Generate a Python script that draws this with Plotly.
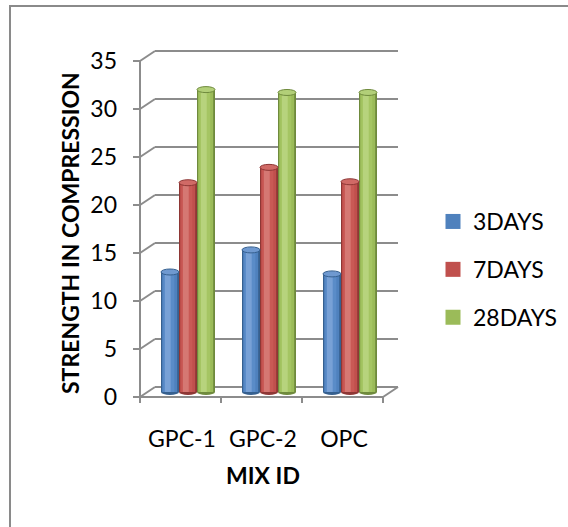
import plotly.graph_objects as go

# ---------------- data ----------------
categories = ["GPC-1", "GPC-2", "OPC"]
series_names = ["3DAYS", "7DAYS", "28DAYS"]
days3 = [12.5, 14.8, 12.3]
days7 = [21.8, 23.4, 21.9]
days28 = [31.5, 31.2, 31.2]
y_ticks = [0, 5, 10, 15, 20, 25, 30, 35]
y_title = "STRENGTH IN COMPRESSION"
x_title = "MIX ID"

series_values = [days3, days7, days28]

# ---------------- styles ----------------
base_colors = ["#4F81BD", "#C0504D", "#9BBB59"]
dark_colors = ["#36608F", "#8E3735", "#6F8A3D"]
mid_colors = ["#5A8CC8", "#C95955", "#A5C563"]
light_colors = ["#78A1D6", "#D57873", "#B7D37D"]
cap_colors = ["#6F99D0", "#D06A66", "#B2CF78"]
grid_color = "#8C8C8C"
FONT = "Lato"

# canvas / plot-area geometry (pixels)
W, H = 568, 527
L, R, T, B = 120, 420, 30, 420
PXU, X0PX = 81.0, 188.0      # pixels per category, pixel of category 0 (mid depth)
PYU, Y0PX = 9.6, 392.0       # pixels per unit, pixel of value 0 (mid depth)
DX = 7.5 / PXU               # half depth offset in x (data units)
DY = 5.0 / PYU               # half depth offset in y (data units)
BW = 18.0 / PXU              # bar width (data units)

x_range = [(L - X0PX) / PXU, (R - X0PX) / PXU]
y_range = [-(B - Y0PX) / PYU, (Y0PX - T) / PYU]


def pxx(px):
    return (px - L) / (R - L)


def pxy(py):
    return (B - py) / (B - T)


xs = list(range(len(categories)))
fig = go.Figure()

# cylinder shading layers: (start fraction, end fraction, palette)
layers = [
    (0.00, 1.00, dark_colors),
    (0.06, 0.90, base_colors),
    (0.13, 0.74, mid_colors),
    (0.22, 0.54, light_colors),
]

for s, (name, vals) in enumerate(zip(series_names, series_values)):
    left = -1.5 * BW + s * BW
    for f0, f1, pal in layers:
        fig.add_trace(go.Bar(
            x=xs, y=vals,
            width=BW * (f1 - f0),
            offset=left + BW * f0,
            marker=dict(color=pal[s], line=dict(width=0)),
            name=name, legendgroup=name, showlegend=False,
            hoverinfo="skip",
        ))
    # legend entry (square swatch) for the series
    fig.add_trace(go.Scatter(
        x=[None], y=[None], mode="markers",
        marker=dict(symbol="square", size=15, color=base_colors[s]),
        name=name, legendgroup=name, showlegend=True, hoverinfo="skip",
    ))

shapes = []
gl = dict(color=grid_color, width=2)
xl, xr = -0.5, len(categories) - 0.5

# back wall gridlines + side-wall diagonals
for v in y_ticks:
    shapes.append(dict(type="line", xref="x", yref="y", layer="below",
                       x0=xl + DX, x1=xr + DX, y0=v + DY, y1=v + DY, line=gl))
    shapes.append(dict(type="line", xref="x", yref="y", layer="below",
                       x0=xl - DX, x1=xl + DX, y0=v - DY, y1=v + DY, line=gl))
    # front tick marks
    shapes.append(dict(type="line", xref="x", yref="y", layer="below",
                       x0=xl - DX - 7 / PXU, x1=xl - DX, y0=v - DY, y1=v - DY, line=gl))

# front vertical axis
shapes.append(dict(type="line", xref="x", yref="y", layer="below",
                   x0=xl - DX, x1=xl - DX, y0=y_ticks[0] - DY, y1=y_ticks[-1] - DY, line=gl))
# floor front edge and right edge
shapes.append(dict(type="line", xref="x", yref="y", layer="below",
                   x0=xl - DX, x1=xr - DX, y0=-DY, y1=-DY, line=gl))
shapes.append(dict(type="line", xref="x", yref="y", layer="below",
                   x0=xr - DX, x1=xr + DX, y0=-DY, y1=DY, line=gl))
# category tick marks on the front floor edge
for k in range(len(categories) + 1):
    xv = xl + k - DX
    shapes.append(dict(type="line", xref="x", yref="y", layer="below",
                       x0=xv, x1=xv, y0=-DY, y1=-DY - 6 / PYU, line=gl))

# cylinder bottoms and caps
for s, vals in enumerate(series_values):
    for i, v in enumerate(vals):
        cx0 = xs[i] - 1.5 * BW + s * BW
        cx1 = cx0 + BW
        shapes.append(dict(type="circle", xref="x", yref="y", layer="below",
                           x0=cx0, x1=cx1, y0=-3 / PYU, y1=3 / PYU,
                           fillcolor=dark_colors[s], line=dict(width=0)))
        shapes.append(dict(type="circle", xref="x", yref="y", layer="above",
                           x0=cx0, x1=cx1, y0=v - 3 / PYU, y1=v + 3 / PYU,
                           fillcolor=cap_colors[s],
                           line=dict(color=dark_colors[s], width=1)))

# outer chart border
shapes.append(dict(type="rect", xref="paper", yref="paper", layer="above",
                   x0=pxx(10), x1=pxx(W + 20), y0=pxy(6), y1=pxy(H + 20),
                   line=dict(color="#8A8A8A", width=2), fillcolor="rgba(0,0,0,0)"))

annotations = [
    dict(text="<b>" + y_title + "</b>", textangle=-90, xref="paper", yref="paper",
         x=pxx(70), y=pxy(233), showarrow=False, xanchor="center", yanchor="middle",
         font=dict(family=FONT, size=23, color="#000000")),
    dict(text="<b>" + x_title + "</b>", xref="paper", yref="paper",
         x=pxx(263), y=pxy(475), showarrow=False, xanchor="center", yanchor="middle",
         font=dict(family=FONT, size=23, color="#000000")),
]

fig.update_layout(
    width=W, height=H,
    margin=dict(l=L, r=W - R, t=T, b=H - B, pad=0, autoexpand=False),
    paper_bgcolor="white", plot_bgcolor="white",
    barmode="overlay",
    hovermode=False,
    font=dict(family=FONT, size=23, color="#000000"),
    shapes=shapes,
    annotations=annotations,
    legend=dict(
        xref="container", yref="container",
        x=433 / W, xanchor="left", y=1 - 200 / H, yanchor="top",
        traceorder="grouped", tracegroupgap=15,
        font=dict(family=FONT, size=23, color="#000000"),
        bgcolor="rgba(0,0,0,0)",
    ),
    xaxis=dict(range=x_range, tickvals=xs, ticktext=categories,
               showgrid=False, zeroline=False, showline=False, ticks="",
               ticklabelshift=-6, ticklabelstandoff=3, automargin=False,
               tickfont=dict(family=FONT, size=23, color="#000000"), fixedrange=True),
    yaxis=dict(range=y_range, tickvals=y_ticks,
               showgrid=False, zeroline=False, showline=False, ticks="",
               ticklabelshift=5, ticklabelstandoff=2, automargin=False,
               tickfont=dict(family=FONT, size=23, color="#000000"), fixedrange=True),
)

fig.write_html("out.html")
